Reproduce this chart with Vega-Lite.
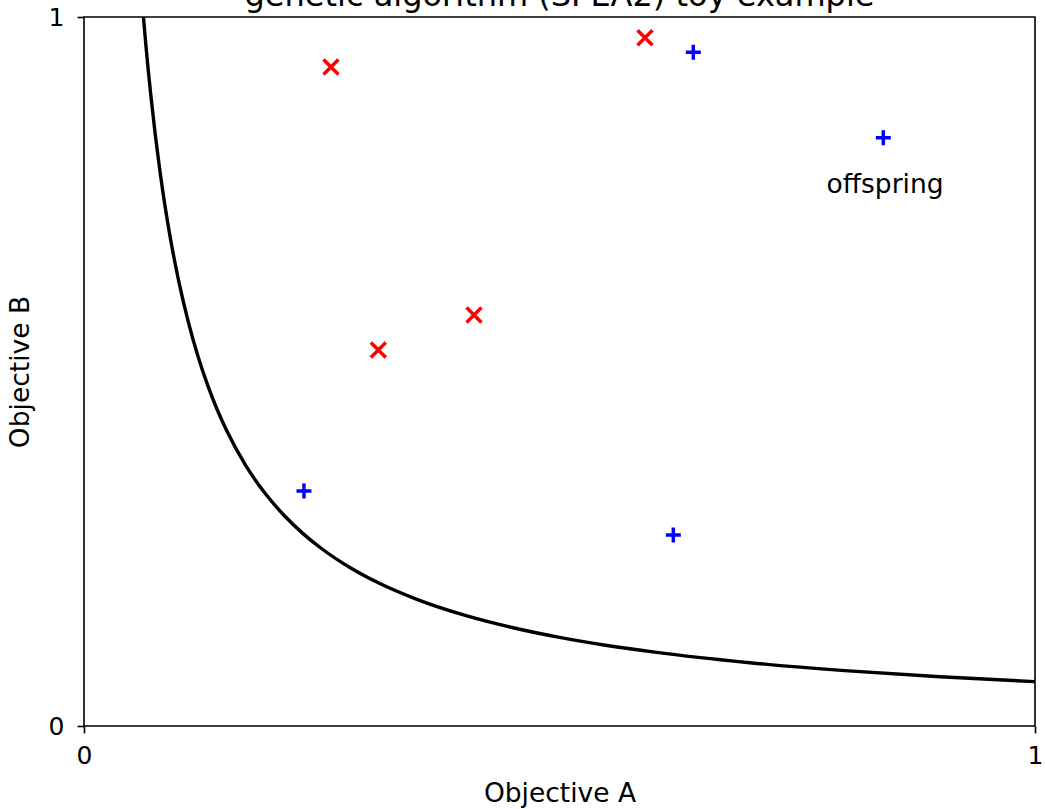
{
  "$schema": "https://vega.github.io/schema/vega-lite/v6.json",
  "autosize": "none",
  "width": 951,
  "height": 709,
  "padding": {"left": 84, "top": 17, "right": 10, "bottom": 83},
  "background": "white",
  "title": {
    "text": "genetic algorithm (SPEA2) toy example",
    "font": "DejaVu Sans",
    "fontSize": 32,
    "fontWeight": "normal",
    "color": "black",
    "anchor": "middle",
    "baseline": "alphabetic",
    "offset": 0,
    "dy": 33
  },
  "config": {
    "view": {"stroke": "black", "strokeWidth": 1.6},
    "axis": {
      "labelFont": "DejaVu Sans",
      "titleFont": "DejaVu Sans",
      "labelFontSize": 25,
      "titleFontSize": 26.5,
      "titleFontWeight": "normal",
      "labelColor": "black",
      "titleColor": "black",
      "tickColor": "black",
      "tickWidth": 1.6,
      "tickSize": 7,
      "domain": false,
      "grid": false,
      "labelFlush": false,
      "format": "d"
    }
  },
  "datasets": {
    "front": [
      {"a": 0.0625, "b": 1.0},
      {"a": 0.065, "b": 0.9615},
      {"a": 0.0675, "b": 0.9259},
      {"a": 0.07, "b": 0.8929},
      {"a": 0.075, "b": 0.8333},
      {"a": 0.08, "b": 0.78125},
      {"a": 0.085, "b": 0.7353},
      {"a": 0.09, "b": 0.6944},
      {"a": 0.095, "b": 0.6579},
      {"a": 0.1, "b": 0.625},
      {"a": 0.11, "b": 0.5682},
      {"a": 0.12, "b": 0.5208},
      {"a": 0.13, "b": 0.4808},
      {"a": 0.14, "b": 0.4464},
      {"a": 0.15, "b": 0.4167},
      {"a": 0.17, "b": 0.3676},
      {"a": 0.19, "b": 0.3289},
      {"a": 0.21, "b": 0.2976},
      {"a": 0.23, "b": 0.2717},
      {"a": 0.25, "b": 0.25},
      {"a": 0.28, "b": 0.2232},
      {"a": 0.31, "b": 0.2016},
      {"a": 0.35, "b": 0.1786},
      {"a": 0.4, "b": 0.15625},
      {"a": 0.45, "b": 0.1389},
      {"a": 0.5, "b": 0.125},
      {"a": 0.55, "b": 0.1136},
      {"a": 0.6, "b": 0.1042},
      {"a": 0.7, "b": 0.0893},
      {"a": 0.8, "b": 0.0781},
      {"a": 0.9, "b": 0.0694},
      {"a": 1.0, "b": 0.0625}
    ],
    "pts": [
      {"a": 0.2597, "b": 0.9295, "kind": "population"},
      {"a": 0.5899, "b": 0.9708, "kind": "population"},
      {"a": 0.4101, "b": 0.5797, "kind": "population"},
      {"a": 0.3095, "b": 0.5303, "kind": "population"},
      {"a": 0.6407, "b": 0.9502, "kind": "offspring"},
      {"a": 0.8405, "b": 0.8298, "kind": "offspring"},
      {"a": 0.2313, "b": 0.3315, "kind": "offspring"},
      {"a": 0.6197, "b": 0.2694, "kind": "offspring"}
    ],
    "labels": [
      {"a": 0.8423, "b": 0.7511, "text": "offspring"}
    ]
  },
  "encoding": {
    "x": {
      "field": "a", "type": "quantitative",
      "scale": {"domain": [0, 1], "nice": false, "zero": false},
      "axis": {"title": "Objective A", "values": [0, 1], "labelPadding": 10, "titlePadding": 12}
    },
    "y": {
      "field": "b", "type": "quantitative",
      "scale": {"domain": [0, 1], "nice": false, "zero": false},
      "axis": {"title": "Objective B", "values": [0, 1], "labelPadding": 13, "titlePadding": 14}
    }
  },
  "layer": [
    {
      "data": {"name": "front"},
      "mark": {"type": "line", "color": "black", "strokeWidth": 3.4, "clip": true, "interpolate": "monotone"},
      "encoding": {"order": {"field": "a", "type": "quantitative"}}
    },
    {
      "data": {"name": "pts"},
      "mark": {"type": "point", "filled": false, "strokeWidth": 3.5, "size": 169, "opacity": 1},
      "encoding": {
        "shape": {
          "field": "kind", "type": "nominal",
          "scale": {"domain": ["population", "offspring"], "range": ["M-1.15,-1.15L1.15,1.15M-1.15,1.15L1.15,-1.15", "M-1.15,0L1.15,0M0,-1.15L0,1.15"]},
          "legend": null
        },
        "color": {
          "field": "kind", "type": "nominal",
          "scale": {"domain": ["population", "offspring"], "range": ["#ff0000", "#0000ff"]},
          "legend": null
        }
      }
    },
    {
      "data": {"name": "labels"},
      "mark": {"type": "text", "font": "DejaVu Sans", "fontSize": 26.5, "color": "black", "align": "center", "baseline": "alphabetic"},
      "encoding": {"text": {"field": "text", "type": "nominal"}}
    }
  ]
}
